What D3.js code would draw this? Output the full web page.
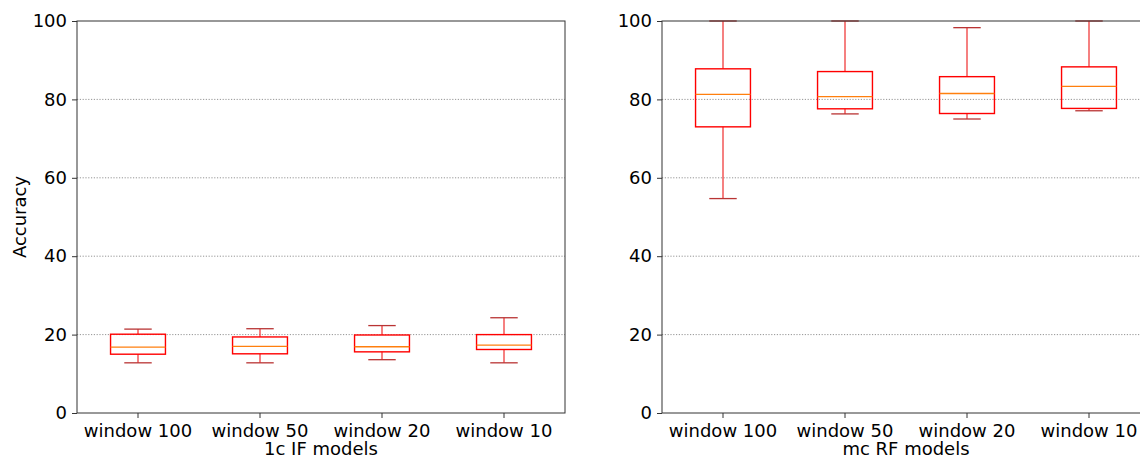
<!DOCTYPE html>
<html>
<head>
<meta charset="utf-8">
<script src="https://cdn.jsdelivr.net/npm/d3@7"></script>
<style>
  html, body { margin: 0; padding: 0; background: #fff; }
  svg { display: block; font-family: "DejaVu Sans", sans-serif; }
</style>
</head>
<body>
<svg id="chart" width="1140" height="459"></svg>
<script>
const categories = ["window 100", "window 50", "window 20", "window 10"];
const yTicks = [0, 20, 40, 60, 80, 100];

// 1c IF models: [whiskerLow, q1, median, q3, whiskerHigh]
const ifWhiskerLow  = [12.8, 12.8, 13.6, 12.8];
const ifQ1          = [15.0, 15.1, 15.6, 16.2];
const ifMedian      = [16.8, 17.0, 16.9, 17.3];
const ifQ3          = [20.1, 19.4, 19.9, 20.0];
const ifWhiskerHigh = [21.4, 21.5, 22.3, 24.3];

// mc RF models
const rfWhiskerLow  = [54.7, 76.3, 75.0, 77.1];
const rfQ1          = [73.0, 77.6, 76.4, 77.7];
const rfMedian      = [81.3, 80.7, 81.5, 83.3];
const rfQ3          = [87.8, 87.1, 85.8, 88.3];
const rfWhiskerHigh = [100, 100, 98.3, 100];

const panels = [
  { x0: 77, label: "1c IF models", yLabel: "Accuracy",
    lo: ifWhiskerLow, q1: ifQ1, med: ifMedian, q3: ifQ3, hi: ifWhiskerHigh },
  { x0: 662, label: "mc RF models", yLabel: null,
    lo: rfWhiskerLow, q1: rfQ1, med: rfMedian, q3: rfQ3, hi: rfWhiskerHigh }
];

const W = 488, plotTop = 21, plotBottom = 413;
const svg = d3.select("#chart");
const y = d3.scaleLinear().domain([0, 100]).range([plotBottom, plotTop]);

panels.forEach(p => {
  const g = svg.append("g");
  const x = d3.scaleBand().domain(categories).range([p.x0, p.x0 + W]).paddingInner(0).paddingOuter(0);
  const bw = x.bandwidth() * 0.45;
  const cw = bw / 2;

  // grid
  g.append("g").selectAll("line").data(yTicks.filter(t => t > 0 && t < 100)).join("line")
    .attr("x1", p.x0).attr("x2", p.x0 + W)
    .attr("y1", d => y(d)).attr("y2", d => y(d))
    .attr("stroke", "#7a7a7a").attr("stroke-width", 0.8).attr("stroke-dasharray", "1.2,1.6");

  const data = categories.map((c, i) => ({ c, lo: p.lo[i], q1: p.q1[i], med: p.med[i], q3: p.q3[i], hi: p.hi[i] }));
  const bx = g.append("g").selectAll("g").data(data).join("g");
  const cx = d => x(d.c) + x.bandwidth() / 2;

  // whiskers
  bx.append("line").attr("x1", cx).attr("x2", cx).attr("y1", d => y(d.q3)).attr("y2", d => y(d.hi))
    .attr("stroke", "#f03c3c").attr("stroke-width", 1.3);
  bx.append("line").attr("x1", cx).attr("x2", cx).attr("y1", d => y(d.q1)).attr("y2", d => y(d.lo))
    .attr("stroke", "#f03c3c").attr("stroke-width", 1.3);
  // caps
  bx.append("line").attr("x1", d => cx(d) - cw / 2).attr("x2", d => cx(d) + cw / 2)
    .attr("y1", d => y(d.hi)).attr("y2", d => y(d.hi))
    .attr("stroke", "#b93434").attr("stroke-width", 1.3);
  bx.append("line").attr("x1", d => cx(d) - cw / 2).attr("x2", d => cx(d) + cw / 2)
    .attr("y1", d => y(d.lo)).attr("y2", d => y(d.lo))
    .attr("stroke", "#b93434").attr("stroke-width", 1.3);
  // box
  bx.append("rect").attr("x", d => cx(d) - bw / 2).attr("width", bw)
    .attr("y", d => y(d.q3)).attr("height", d => y(d.q1) - y(d.q3))
    .attr("fill", "none").attr("stroke", "#ff0000").attr("stroke-width", 1.4);
  // median
  bx.append("line").attr("x1", d => cx(d) - bw / 2).attr("x2", d => cx(d) + bw / 2)
    .attr("y1", d => y(d.med)).attr("y2", d => y(d.med))
    .attr("stroke", "#ff7f0e").attr("stroke-width", 1.3);

  // frame
  g.append("rect").attr("x", p.x0).attr("y", plotTop).attr("width", W).attr("height", plotBottom - plotTop)
    .attr("fill", "none").attr("stroke", "#333").attr("stroke-width", 1);

  // axes
  const yAxis = d3.axisLeft(y).tickValues(yTicks).tickSize(5).tickPadding(5);
  const ya = g.append("g").attr("transform", `translate(${p.x0},0)`).call(yAxis);
  ya.select(".domain").remove();
  ya.selectAll("line").attr("stroke", "#333");
  ya.selectAll("text").attr("font-size", 18).attr("fill", "#000").attr("font-family", "DejaVu Sans");

  const xAxis = d3.axisBottom(x).tickSize(5).tickPadding(6);
  const xa = g.append("g").attr("transform", `translate(0,${plotBottom})`).call(xAxis);
  xa.select(".domain").remove();
  xa.selectAll("line").attr("stroke", "#333");
  xa.selectAll("text").attr("font-size", 18).attr("fill", "#000").attr("font-family", "DejaVu Sans");

  g.append("text").attr("x", p.x0 + W / 2).attr("y", 455).attr("text-anchor", "middle")
    .attr("font-size", 18).attr("fill", "#000").text(p.label);

  if (p.yLabel) {
    g.append("text").attr("transform", `translate(26,${(plotTop + plotBottom) / 2}) rotate(-90)`)
      .attr("text-anchor", "middle").attr("font-size", 18).attr("fill", "#000").text(p.yLabel);
  }
});
</script>
</body>
</html>
